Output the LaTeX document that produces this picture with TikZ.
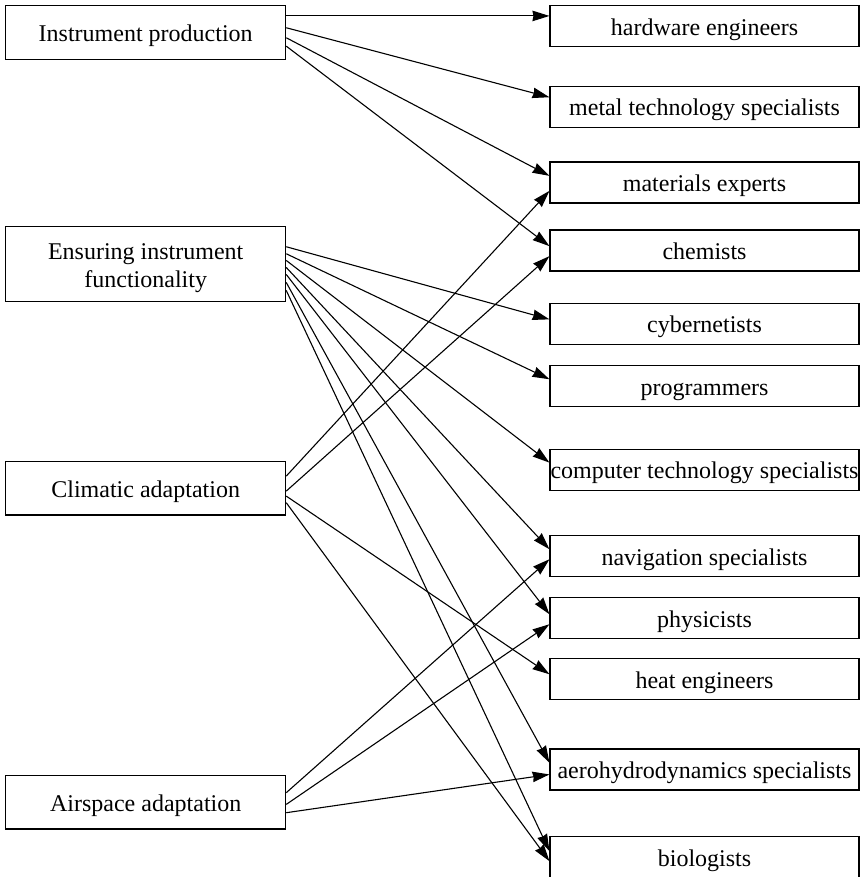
\documentclass[tikz,border=0pt]{standalone}
\usepackage{fontspec}
\setmainfont{Liberation Serif}
\usetikzlibrary{arrows.meta}
\newcommand\linkto[4]{\draw[arr] ([yshift=-#2pt]#1.north east) -- ([yshift=-#4pt]#3.north west);}
\begin{document}
\begin{tikzpicture}[x=1pt,y=-1pt,
  boxfont/.style={font=\fontsize{24}{28.3}\selectfont},
  lbox/.style={draw,line width=1.1pt,minimum width=280pt,inner sep=0pt,align=center,boxfont,
    text height=23pt,text depth=5pt},
  rbox/.style={draw,line width=1.1pt,minimum width=309pt,minimum height=41pt,inner sep=0pt,boxfont,
    text height=23pt,text depth=5pt},
  arr/.style={line width=1.1pt,-{Stealth[length=17pt,width=10.5pt,inset=1pt]}}]
\useasboundingbox (0,0) rectangle (860,877);
% left boxes
\node[lbox,minimum height=54pt] (ip) at (145.7,32.3) {Instrument production};
\node[lbox,minimum height=75pt,text height=51.3pt] (ef) at (145.7,264.2) {Ensuring instrument\\functionality};
\node[lbox,minimum height=53.3pt] (ca) at (145.7,488.3) {Climatic adaptation};
\node[lbox,minimum height=53.3pt] (aa) at (145.7,802.3) {Airspace adaptation};
% right boxes
\node[rbox] (hw)   at (704.5,26.2)  {hardware engineers};
\node[rbox] (met)  at (704.5,107)   {metal technology specialists};
\node[rbox] (mat)  at (704.5,182.5) {materials experts};
\node[rbox] (chem) at (704.5,250.5) {chemists};
\node[rbox] (cyb)  at (704.5,323.7) {cybernetists};
\node[rbox] (prog) at (704.5,386.3) {programmers};
\node[rbox] (comp) at (704.5,469.7) {computer technology specialists};
\node[rbox] (nav)  at (704.5,556.3) {navigation specialists};
\node[rbox] (phys) at (704.5,618)   {physicists};
\node[rbox] (heat) at (704.5,679)   {heat engineers};
\node[rbox] (aero) at (704.5,769.5) {aerohydrodynamics specialists};
\node[rbox] (bio)  at (704.5,857)   {biologists};
% connectors
\linkto{ip}{11.2}{hw}{10.8}
\linkto{ip}{23}{met}{11.3}
\linkto{ip}{33}{mat}{14.4}
\linkto{ip}{41.4}{chem}{16.7}
\linkto{ef}{20.6}{cyb}{16.7}
\linkto{ef}{27.6}{prog}{14}
\linkto{ef}{34.3}{comp}{14}
\linkto{ef}{41.3}{nav}{14}
\linkto{ef}{48.3}{phys}{17.3}
\linkto{ef}{56.3}{aero}{14.3}
\linkto{ef}{64.3}{bio}{15.2}
\linkto{ca}{15}{mat}{29.4}
\linkto{ca}{30}{chem}{26.7}
\linkto{ca}{35}{heat}{16.3}
\linkto{ca}{41.6}{bio}{25.2}
\linkto{aa}{17.6}{nav}{24}
\linkto{aa}{29.3}{phys}{27.3}
\linkto{aa}{37.6}{aero}{26}
\end{tikzpicture}
\end{document}
